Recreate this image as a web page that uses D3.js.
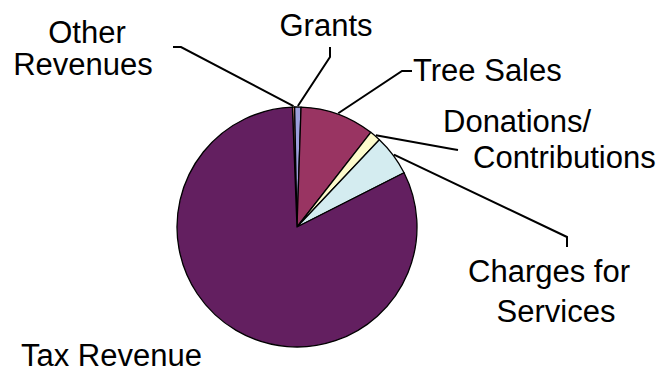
<!DOCTYPE html>
<html>
<head>
<meta charset="utf-8">
<script src="https://cdn.jsdelivr.net/npm/d3@7"></script>
<style>
  html, body { margin: 0; padding: 0; background: #fff; }
  text { font-family: "Liberation Sans", Arial, sans-serif; font-size: 31px; fill: #000; }
</style>
</head>
<body>
<svg id="chart" width="660" height="369"></svg>
<script>
// slices in clockwise order, starting just left of 12 o'clock
var categories = ['Other Revenues', 'Grants', 'Tree Sales', 'Donations/ Contributions', 'Charges for Services', 'Tax Revenue'];
var shares = [0.3, 0.85, 10.0, 1.5, 5.5, 81.85];
var colors = ['#e08a80', '#9d9fdc', '#993462', '#fdfbcc', '#d4ecf0', '#631f60'];

// label layout: text lines + where the leader elbows / ends
var labelLayout = {
  'Other Revenues':           { lines: [['Other', 87, 43], ['Revenues', 83, 75]], anchor: 'middle', leader: [[181, 47], [173, 47]] },
  'Grants':                   { lines: [['Grants', 326, 36]], anchor: 'middle', leader: [[330, 57], [330, 47]] },
  'Tree Sales':               { lines: [['Tree Sales', 413, 81]], anchor: 'start', leader: [[402, 71], [412, 71]] },
  'Donations/ Contributions': { lines: [['Donations/', 443, 132], ['Contributions', 473, 168]], anchor: 'start', leader: [[452, 149], [458, 150]] },
  'Charges for Services':     { lines: [['Charges for', 549, 282], ['Services', 556, 322]], anchor: 'middle', leader: [[567, 237], [567, 247]] },
  'Tax Revenue':              { lines: [['Tax Revenue', 21, 366]], anchor: 'start', leader: null }
};

var cx = 297, cy = 227, radius = 120;
var startDeg = -2.2;

var svg = d3.select('#chart');
var g = svg.append('g').attr('transform', 'translate(' + cx + ',' + cy + ')');

var data = categories.map(function(c, i){ return { name: c, value: shares[i], color: colors[i] }; });

var pie = d3.pie()
  .sort(null)
  .value(function(d){ return d.value; })
  .startAngle(startDeg * Math.PI / 180)
  .endAngle(startDeg * Math.PI / 180 + 2 * Math.PI);

var arc = d3.arc().innerRadius(0).outerRadius(radius);
var arcs = pie(data);

g.selectAll('path.slice').data(arcs).enter()
  .append('path')
  .attr('class', 'slice')
  .attr('d', arc)
  .attr('fill', function(d){ return d.data.color; })
  .attr('stroke', '#000')
  .attr('stroke-width', 1.3)
  .attr('stroke-linejoin', 'round');

// leader lines from slice mid-angle to label
var line = d3.line();
arcs.forEach(function(a){
  var lay = labelLayout[a.data.name];
  if (!lay.leader) return;
  var mid = (a.startAngle + a.endAngle) / 2;
  var p0 = [cx + Math.sin(mid) * (radius + 1), cy - Math.cos(mid) * (radius + 1)];
  svg.append('path')
    .attr('d', line([p0].concat(lay.leader)))
    .attr('fill', 'none')
    .attr('stroke', '#000')
    .attr('stroke-width', 2);
});

// labels
arcs.forEach(function(a){
  var lay = labelLayout[a.data.name];
  lay.lines.forEach(function(l){
    svg.append('text')
      .attr('x', l[1])
      .attr('y', l[2])
      .attr('text-anchor', lay.anchor)
      .text(l[0]);
  });
});
</script>
</body>
</html>
